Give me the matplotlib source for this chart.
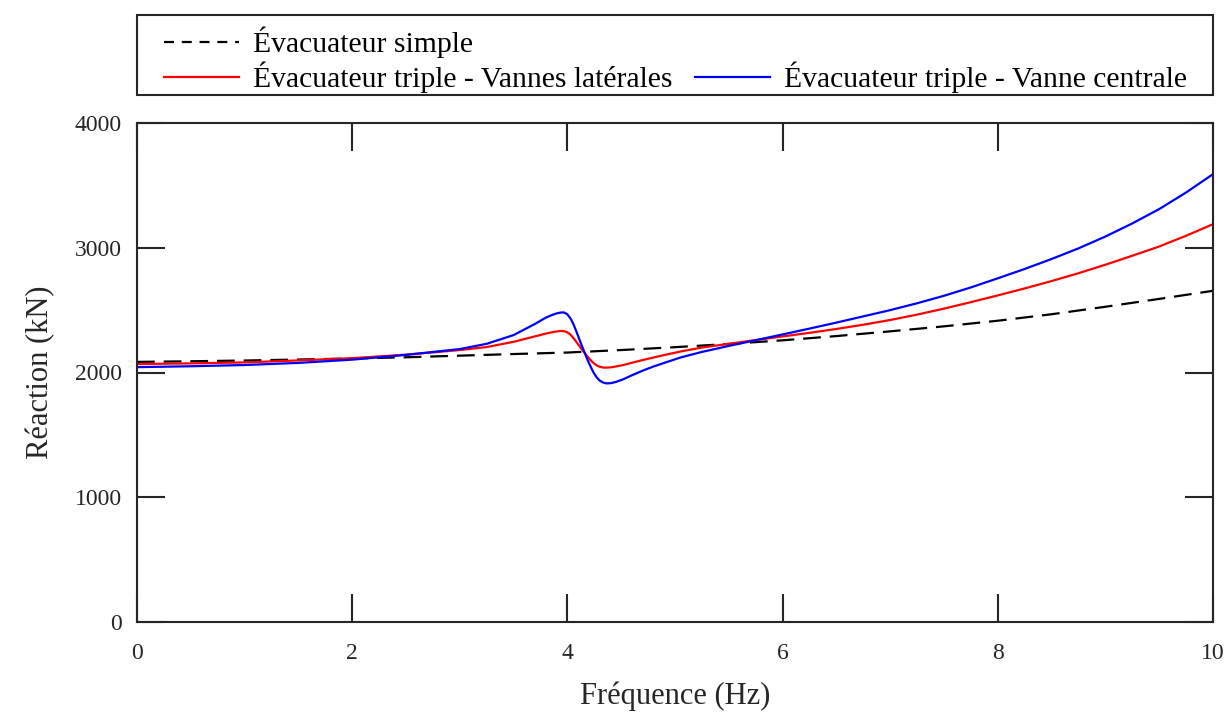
import matplotlib
matplotlib.use("Agg")
import matplotlib.pyplot as plt
from matplotlib.lines import Line2D
from matplotlib.patches import Rectangle

plt.rcParams['font.family'] = ['Liberation Serif', 'DejaVu Serif']

# Frequency (Hz)
freq_simple = [0, 0.5, 1, 1.5, 2, 2.5, 3, 3.5, 4, 4.5, 5, 5.5, 6, 6.5, 7,
               7.5, 8, 8.5, 9, 9.5, 10]
freq_triple = [0, 0.5, 1, 1.5, 2, 2.5, 3, 3.25, 3.5, 3.7, 3.8, 3.86, 3.9,
               3.94, 3.97, 4.0, 4.03, 4.06, 4.09, 4.12, 4.15, 4.18, 4.21,
               4.24, 4.27, 4.3, 4.33, 4.36, 4.4, 4.45, 4.52, 4.6, 4.7, 4.8,
               4.9, 5.05, 5.25, 5.5, 5.75, 6.0, 6.25, 6.5, 6.75, 7.0, 7.25,
               7.5, 7.75, 8.0, 8.25, 8.5, 8.75, 9.0, 9.25, 9.5, 9.75, 10]

# Reaction force (kN)
reaction_simple = [2085, 2090, 2096, 2104, 2112, 2122, 2135, 2148, 2160, 2180,
                   2203, 2229, 2258, 2292, 2330, 2370, 2415, 2467, 2527, 2590,
                   2655]
reaction_laterales = [2068, 2073, 2081, 2097, 2115, 2143, 2180, 2204, 2246,
                      2290, 2312, 2323, 2329, 2333, 2331, 2322, 2302, 2272,
                      2238, 2202, 2168, 2135, 2104, 2078, 2058, 2046, 2040,
                      2039, 2041, 2048, 2060, 2078, 2100, 2120, 2140, 2168,
                      2200, 2230, 2260, 2289, 2318, 2349, 2383, 2421, 2464,
                      2512, 2564, 2618, 2674, 2733, 2796, 2864, 2936, 3010,
                      3096, 3189]
reaction_centrale = [2043, 2050, 2060, 2077, 2103, 2141, 2188, 2230, 2300,
                     2390, 2440, 2462, 2474, 2481, 2481, 2466, 2432, 2380,
                     2314, 2246, 2180, 2116, 2058, 2004, 1963, 1935, 1920,
                     1913, 1914, 1924, 1946, 1978, 2015, 2048, 2077, 2120,
                     2165, 2213, 2259, 2305, 2352, 2400, 2450, 2500, 2555,
                     2615, 2682, 2755, 2830, 2910, 2995, 3090, 3195, 3310,
                     3443, 3590]

labels = ["Évacuateur simple",
          "Évacuateur triple - Vannes latérales",
          "Évacuateur triple - Vanne centrale"]

xticks = [0, 2, 4, 6, 8, 10]
yticks = [0, 1000, 2000, 3000, 4000]

W, H = 1229, 717
fig = plt.figure(figsize=(W / 100, H / 100), dpi=100)
ax = fig.add_axes([137 / W, 1 - 622 / H, (1213 - 137) / W, (622 - 123) / H])

dark = '#262626'
l1, = ax.plot(freq_simple, reaction_simple, color='black', lw=1.6,
              dashes=(8, 4), label=labels[0])
l2, = ax.plot(freq_triple, reaction_laterales, color='#ff0000', lw=1.6,
              label=labels[1])
l3, = ax.plot(freq_triple, reaction_centrale, color='#0000ff', lw=1.6,
              label=labels[2])

ax.set_xlim(0, 10)
ax.set_ylim(0, 4000)
ax.set_xticks(xticks)
ax.set_yticks(yticks)
ax.tick_params(direction='in', length=20, width=1.5, color=dark,
               top=True, right=True, labelsize=17, labelcolor=dark)
ax.tick_params(axis='y', pad=11)
ax.tick_params(axis='x', pad=15)
for s in ax.spines.values():
    s.set_color(dark)
    s.set_linewidth(1.5)

ax.set_xlabel("Fréquence (Hz)", fontsize=22, color=dark, labelpad=13)
ax.set_ylabel("Réaction (kN)", fontsize=22, color=dark, labelpad=14)

# Legend: frame drawn as a figure rectangle, entries spread inside it
fig.patches.append(Rectangle((137 / W, 1 - 95 / H), (1213 - 137) / W, 80 / H,
                             transform=fig.transFigure, fill=False,
                             edgecolor=dark, linewidth=1.5))
blank = Line2D([], [], linestyle='none')
leg_dash = Line2D([], [], color='black', lw=1.6, dashes=(4.5, 3.5))
leg = fig.legend([leg_dash, l2, blank, l3],
                 [labels[0], labels[1], '', labels[2]],
                 ncol=2, loc='upper left',
                 bbox_to_anchor=(164 / W, 1 - 95 / H, (1187 - 164) / W, 68.5 / H),
                 mode='expand', fontsize=21.3, frameon=False,
                 handlelength=2.53, handletextpad=0.47,
                 borderpad=0, borderaxespad=0, labelspacing=0.13,
                 columnspacing=1.0)
for t in leg.get_texts():
    t.set_color('black')

fig.savefig("out.png", dpi=100)
